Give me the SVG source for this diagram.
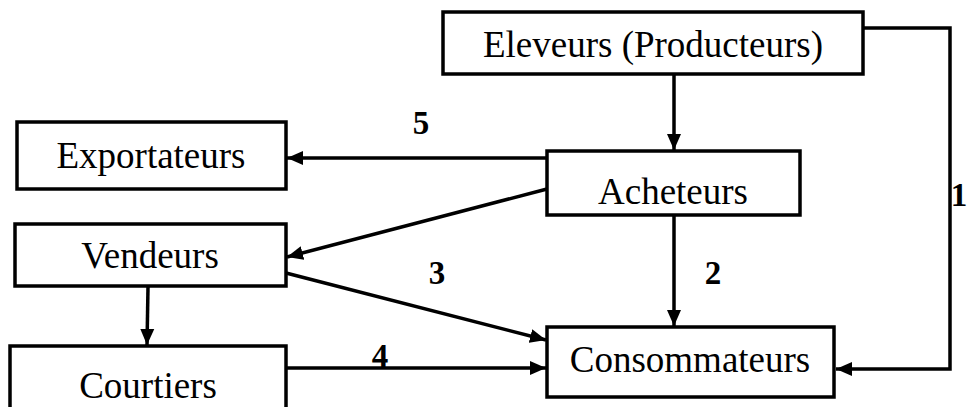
<svg xmlns="http://www.w3.org/2000/svg" width="968" height="407" viewBox="0 0 968 407">
<style>
.box{fill:#fff;stroke:#000;stroke-width:3.5}
.lbl{font-family:"Liberation Serif","Times New Roman",serif;font-size:37px;fill:#000;text-anchor:middle}
.num{font-family:"Liberation Serif","Times New Roman",serif;font-size:33px;font-weight:bold;fill:#000;text-anchor:middle}
.con{fill:none;stroke:#000;stroke-width:3.5}
</style>
<defs>
<marker id="arr" markerUnits="userSpaceOnUse" markerWidth="18" markerHeight="16" refX="16" refY="8" orient="auto">
<path d="M0,1 L16,8 L0,15 Z" fill="#000"/>
</marker>
</defs>
<rect width="968" height="407" fill="#fff"/>
<g id="connectors">
<line class="con" x1="674" y1="74" x2="674" y2="150" marker-end="url(#arr)"/>
<path class="con" d="M863,28 H950 V369 H836" marker-end="url(#arr)"/>
<line class="con" x1="547" y1="158" x2="287" y2="158" marker-end="url(#arr)"/>
<line class="con" x1="547" y1="189" x2="287" y2="257" marker-end="url(#arr)"/>
<line class="con" x1="286" y1="273" x2="546" y2="340" marker-end="url(#arr)"/>
<line class="con" x1="148" y1="287" x2="147" y2="345" marker-end="url(#arr)"/>
<line class="con" x1="286" y1="368" x2="546" y2="368" marker-end="url(#arr)"/>
<line class="con" x1="674" y1="215" x2="674" y2="326" marker-end="url(#arr)"/>
<text class="num" x="421" y="134">5</text>
<text class="num" x="437" y="284">3</text>
<text class="num" x="380" y="367">4</text>
<text class="num" x="713" y="284">2</text>
<text class="num" x="959" y="206">1</text>
</g>
<g id="eleveurs">
<rect class="box" x="443" y="12" width="420" height="62"/>
<text class="lbl" x="653" y="57">Eleveurs (Producteurs)</text>
</g>
<g id="acheteurs">
<rect class="box" x="547" y="151" width="253" height="64"/>
<text class="lbl" x="673" y="204">Acheteurs</text>
</g>
<g id="exportateurs">
<rect class="box" x="17" y="122" width="269" height="67"/>
<text class="lbl" x="151" y="168">Exportateurs</text>
</g>
<g id="vendeurs">
<rect class="box" x="15" y="224" width="271" height="62"/>
<text class="lbl" x="150" y="268">Vendeurs</text>
</g>
<g id="courtiers">
<rect class="box" x="10" y="346" width="276" height="70"/>
<text class="lbl" x="148" y="398">Courtiers</text>
</g>
<g id="consommateurs">
<rect class="box" x="547" y="327" width="287" height="70"/>
<text class="lbl" x="690" y="372">Consommateurs</text>
</g>
</svg>
